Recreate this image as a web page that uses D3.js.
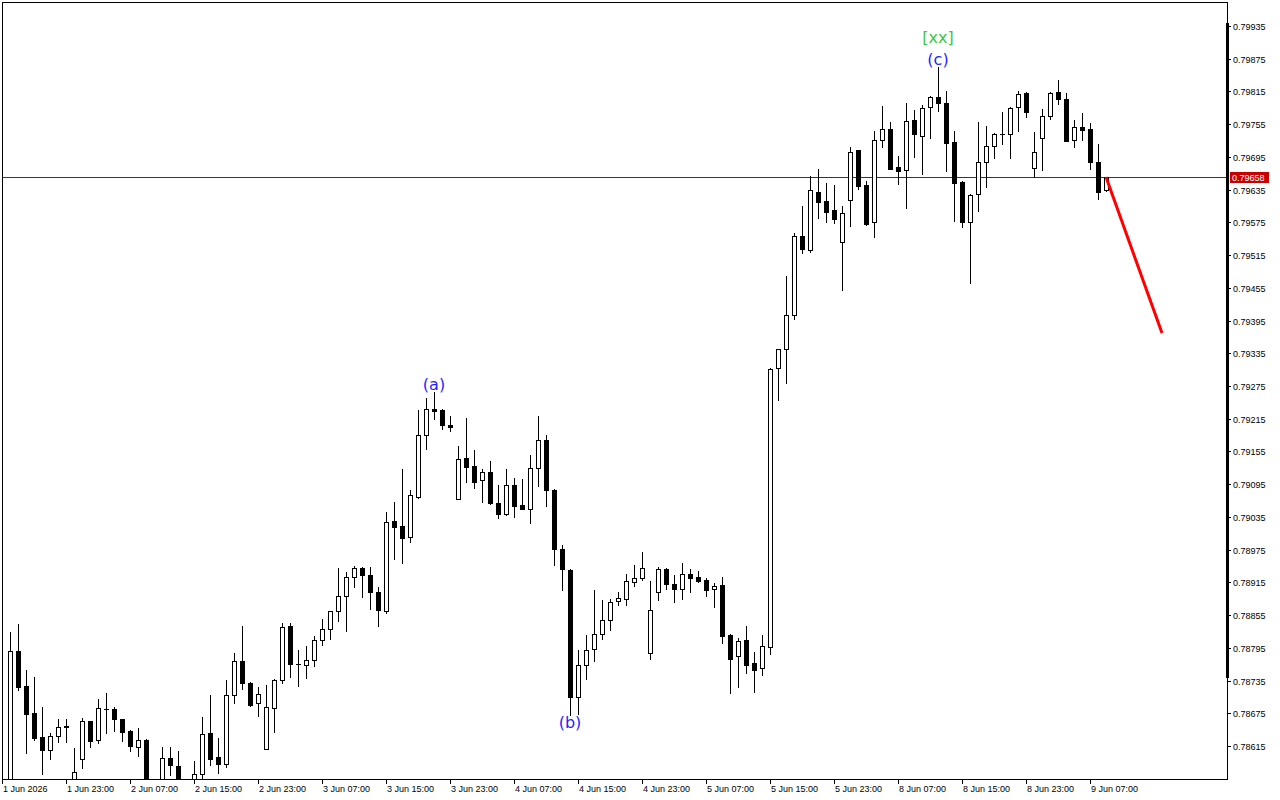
<!DOCTYPE html>
<html><head><meta charset="utf-8">
<script src="https://cdn.jsdelivr.net/npm/d3@7"></script>
<style>html,body{margin:0;padding:0;background:#fff;} svg{display:block;}</style>
</head><body><svg id="c" width="1280" height="800"></svg>
<script>
const opens = [
0.78525,0.78789,0.78725,0.78676,0.78632,0.78608,0.78633,0.78652,0.78549,0.78591,
0.78661,0.78626,0.78683,0.78683,0.78664,0.78642,0.78613,0.78626,0.78530,0.78543,
0.78593,0.78578,0.78540,0.78551,0.78564,0.78639,0.78595,0.78582,0.78708,0.78771,
0.78731,0.78694,0.78610,0.78685,0.78736,0.78835,0.78765,0.78763,0.78773,0.78809,
0.78829,0.78862,0.78890,0.78925,0.78941,0.78928,0.78897,0.78862,0.79027,0.79018,
0.78998,0.79071,0.79185,0.79233,0.79231,0.79203,0.79068,0.79143,0.79128,0.79103,
0.79117,0.79060,0.79040,0.79093,0.79057,0.79050,0.79125,0.79176,0.79084,0.78976,
0.78938,0.78705,0.78763,0.78792,0.78820,0.78846,0.78880,0.78884,0.78916,0.78923,
0.78785,0.78897,0.78939,0.78912,0.78903,0.78930,0.78925,0.78919,0.78903,0.78910,
0.78818,0.78780,0.78809,0.78767,0.78758,0.78796,0.79308,0.79343,0.79405,0.79550,
0.79524,0.79631,0.79614,0.79598,0.79539,0.79616,0.79708,0.79643,0.79576,0.79726,
0.79746,0.79676,0.79671,0.79763,0.79733,0.79786,0.79805,0.79794,0.79722,0.79649,
0.79576,0.79627,0.79686,0.79715,0.79737,0.79737,0.79786,0.79812,0.79675,0.79730,
0.79770,0.79814,0.79801,0.79726,0.79750,0.79746,0.79686,0.79634];
const highs = [
0.78824,0.78839,0.78754,0.78741,0.78686,0.78639,0.78664,0.78664,0.78611,0.78666,
0.78661,0.78701,0.78712,0.78686,0.78664,0.78644,0.78648,0.78628,0.78545,0.78613,
0.78613,0.78606,0.78548,0.78587,0.78668,0.78708,0.78630,0.78736,0.78785,0.78835,
0.78732,0.78723,0.78727,0.78738,0.78840,0.78840,0.78791,0.78798,0.78817,0.78848,
0.78863,0.78941,0.78934,0.78945,0.78943,0.78943,0.78906,0.79044,0.79062,0.79123,
0.79084,0.79231,0.79253,0.79264,0.79233,0.79220,0.79165,0.79216,0.79158,0.79123,
0.79137,0.79093,0.79123,0.79106,0.79104,0.79148,0.79220,0.79185,0.79086,0.78983,
0.78939,0.78791,0.78818,0.78901,0.78883,0.78884,0.78897,0.78930,0.78947,0.78971,
0.78917,0.78943,0.78941,0.78928,0.78950,0.78939,0.78936,0.78923,0.78914,0.78925,
0.78820,0.78813,0.78835,0.78787,0.78818,0.79308,0.79343,0.79477,0.79555,0.79605,
0.79660,0.79673,0.79647,0.79643,0.79605,0.79713,0.79708,0.79651,0.79742,0.79788,
0.79759,0.79697,0.79794,0.79781,0.79790,0.79806,0.79860,0.79816,0.79742,0.79651,
0.79627,0.79759,0.79752,0.79739,0.79777,0.79786,0.79816,0.79814,0.79741,0.79783,
0.79814,0.79836,0.79812,0.79763,0.79775,0.79757,0.79719,0.79658];
const lows = [
0.78516,0.78718,0.78602,0.78626,0.78564,0.78591,0.78622,0.78622,0.78534,0.78575,
0.78613,0.78620,0.78639,0.78642,0.78624,0.78606,0.78597,0.78516,0.78500,0.78525,
0.78562,0.78534,0.78515,0.78534,0.78549,0.78580,0.78565,0.78576,0.78694,0.78720,
0.78689,0.78670,0.78609,0.78641,0.78730,0.78741,0.78725,0.78740,0.78762,0.78800,
0.78811,0.78844,0.78826,0.78906,0.78888,0.78866,0.78835,0.78859,0.78958,0.78950,
0.78989,0.79070,0.79159,0.79214,0.79196,0.79192,0.79067,0.79099,0.79088,0.79062,
0.79059,0.79033,0.79039,0.79035,0.79049,0.79024,0.79092,0.79055,0.78947,0.78901,
0.78672,0.78674,0.78738,0.78771,0.78811,0.78828,0.78873,0.78873,0.78908,0.78919,
0.78774,0.78883,0.78903,0.78879,0.78884,0.78897,0.78916,0.78890,0.78870,0.78804,
0.78712,0.78723,0.78749,0.78714,0.78745,0.78784,0.79249,0.79280,0.79398,0.79519,
0.79521,0.79583,0.79576,0.79574,0.79451,0.79568,0.79636,0.79570,0.79548,0.79713,
0.79672,0.79645,0.79601,0.79695,0.79664,0.79730,0.79779,0.79669,0.79578,0.79566,
0.79464,0.79596,0.79640,0.79693,0.79719,0.79693,0.79742,0.79768,0.79658,0.79671,
0.79764,0.79792,0.79724,0.79713,0.79726,0.79673,0.79618,0.79633];
const closes = [
0.78789,0.78723,0.78674,0.78630,0.78608,0.78633,0.78650,0.78650,0.78567,0.78661,
0.78624,0.78685,0.78683,0.78664,0.78641,0.78615,0.78626,0.78534,0.78520,0.78593,
0.78580,0.78547,0.78530,0.78564,0.78637,0.78591,0.78582,0.78708,0.78771,0.78730,
0.78690,0.78710,0.78686,0.78736,0.78833,0.78765,0.78765,0.78773,0.78809,0.78829,
0.78862,0.78890,0.78925,0.78941,0.78928,0.78897,0.78864,0.79026,0.79016,0.78996,
0.79075,0.79185,0.79233,0.79229,0.79203,0.79200,0.79141,0.79126,0.79099,0.79117,
0.79060,0.79040,0.79093,0.79055,0.79050,0.79125,0.79176,0.79084,0.78976,0.78939,
0.78705,0.78763,0.78791,0.78820,0.78846,0.78879,0.78886,0.78917,0.78923,0.78941,
0.78864,0.78939,0.78912,0.78903,0.78930,0.78923,0.78917,0.78901,0.78908,0.78817,
0.78775,0.78807,0.78763,0.78754,0.78798,0.79306,0.79342,0.79405,0.79550,0.79526,
0.79634,0.79612,0.79594,0.79581,0.79592,0.79704,0.79642,0.79572,0.79726,0.79746,
0.79673,0.79669,0.79761,0.79737,0.79785,0.79805,0.79794,0.79720,0.79647,0.79576,
0.79625,0.79686,0.79715,0.79737,0.79737,0.79785,0.79810,0.79777,0.79704,0.79770,
0.79812,0.79801,0.79725,0.79750,0.79744,0.79686,0.79631,0.79658];

const yTickValues = [0.79935,0.79875,0.79815,0.79755,0.79695,0.79635,0.79575,0.79515,0.79455,0.79395,
  0.79335,0.79275,0.79215,0.79155,0.79095,0.79035,0.78975,0.78915,0.78855,0.78795,0.78735,0.78675,0.78615];
const xTickIndex = [-1,7,15,23,31,39,47,55,63,71,79,87,95,103,111,119,127,135];
const xTickLabels = ["1 Jun 2026","1 Jun 23:00","2 Jun 07:00","2 Jun 15:00","2 Jun 23:00","3 Jun 07:00",
  "3 Jun 15:00","3 Jun 23:00","4 Jun 07:00","4 Jun 15:00","4 Jun 23:00","5 Jun 07:00","5 Jun 15:00",
  "5 Jun 23:00","8 Jun 07:00","8 Jun 15:00","8 Jun 23:00","9 Jun 07:00"];
const currentPrice = 0.79658;
const forecastIndex = [137, 144];
const forecastPrice = [0.79658, 0.79372];
const waveText = ["(a)", "(b)", "(c)", "[xx]"];
const waveIndex = [53, 70, 116, 116];
const wavePrice = [0.79268, 0.78648, 0.79864, 0.79903];
const waveColor = ["#1f1fff", "#1f1fff", "#1f1fff", "#3cc83c"];

const svg = d3.select('#c');
const L = 2, T = 2, R = 1227, B = 779;
const x = d3.scaleLinear().domain([0, 152]).range([10, 1226]);
const y = d3.scaleLinear().domain([0.78615, 0.79935]).range([746, 26]);
const data = opens.map((o, i) => ({i, o, h: highs[i], l: lows[i], c: closes[i]}));

svg.append('rect').attr('width', 1280).attr('height', 800).attr('fill', '#fff');
svg.append('defs').append('clipPath').attr('id', 'clip')
  .append('rect').attr('x', L).attr('y', T).attr('width', R - L).attr('height', B - T);
const g = svg.append('g').attr('clip-path', 'url(#clip)');

// current price line
const cpY = Math.round(y(currentPrice));
g.append('line').attr('x1', L).attr('x2', R).attr('y1', cpY + 0.5).attr('y2', cpY + 0.5)
  .attr('stroke', '#b40000').attr('stroke-width', 1);

// wicks
g.append('g').selectAll('rect').data(data).join('rect')
  .attr('x', d => Math.round(x(d.i)))
  .attr('y', d => Math.round(y(d.h)))
  .attr('width', 1)
  .attr('height', d => Math.round(y(d.l)) - Math.round(y(d.h)) + 1)
  .attr('fill', '#000');

// bodies
const bodies = g.append('g');
data.forEach(d => {
  const cx = Math.round(x(d.i));
  const top = Math.round(y(Math.max(d.o, d.c)));
  const bot = Math.round(y(Math.min(d.o, d.c)));
  if (bot - top < 1) {
    bodies.append('rect').attr('x', cx - 2).attr('y', top).attr('width', 5).attr('height', 1).attr('fill', '#000');
  } else if (d.c < d.o) {
    bodies.append('rect').attr('x', cx - 2).attr('y', top).attr('width', 5).attr('height', bot - top + 1).attr('fill', '#000');
  } else {
    bodies.append('rect').attr('x', cx - 1.5).attr('y', top + 0.5).attr('width', 4).attr('height', bot - top)
      .attr('fill', '#fff').attr('stroke', '#000').attr('stroke-width', 1);
  }
});

// forecast line
g.append('path')
  .attr('d', d3.line().x((d, k) => x(forecastIndex[k])).y(d => y(d))(forecastPrice))
  .attr('fill', 'none').attr('stroke', '#ff0000').attr('stroke-width', 3);

// wave labels
svg.append('g').selectAll('text').data(waveText).join('text')
  .attr('x', (d, k) => x(waveIndex[k]))
  .attr('y', (d, k) => y(wavePrice[k]))
  .attr('text-anchor', 'middle')
  .attr('font-family', 'DejaVu Sans, sans-serif')
  .attr('font-size', 16)
  .attr('fill', (d, k) => waveColor[k])
  .text(d => d);

// frame
svg.append('rect').attr('x', L + 0.5).attr('y', T + 0.5).attr('width', R - L).attr('height', B - T)
  .attr('fill', 'none').attr('stroke', '#000').attr('stroke-width', 1);
svg.append('rect').attr('x', 1226).attr('y', 23).attr('width', 3).attr('height', 655).attr('fill', '#000');

// y axis ticks
const yAx = svg.append('g').attr('font-family', 'Liberation Sans, Arial, sans-serif').attr('font-size', 9);
yTickValues.forEach(v => {
  const yy = Math.round(y(v));
  yAx.append('line').attr('x1', R).attr('x2', R + 4).attr('y1', yy + 0.5).attr('y2', yy + 0.5).attr('stroke', '#000');
  yAx.append('text').attr('x', R + 6).attr('y', yy + 3.5).attr('fill', '#000').text(d3.format('.5f')(v));
});
// current price tag
yAx.append('rect').attr('x', 1230).attr('y', cpY - 5).attr('width', 39).attr('height', 11).attr('fill', '#c80000');
yAx.append('text').attr('x', 1232).attr('y', cpY + 4).attr('fill', '#fff').text(d3.format('.5f')(currentPrice));

// x axis ticks
const xAx = svg.append('g').attr('font-family', 'Liberation Sans, Arial, sans-serif').attr('font-size', 9);
xTickIndex.forEach((idx, k) => {
  const xx = Math.round(x(idx));
  xAx.append('line').attr('x1', xx + 0.5).attr('x2', xx + 0.5).attr('y1', B).attr('y2', B + 5).attr('stroke', '#000');
  xAx.append('text').attr('x', xx + 1).attr('y', B + 13).attr('fill', '#000').text(xTickLabels[k]);
});
</script></body></html>
